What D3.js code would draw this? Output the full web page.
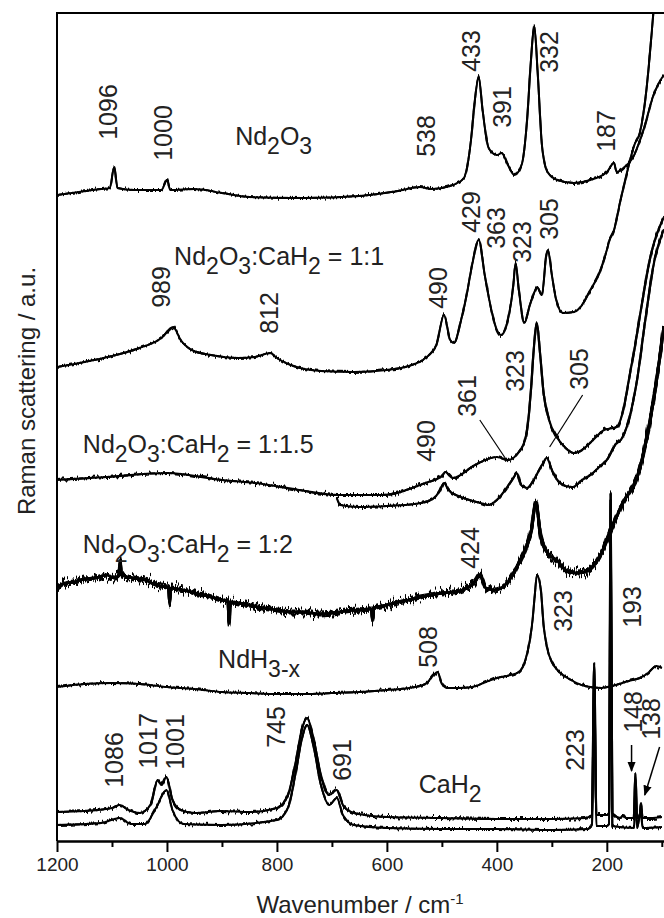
<!DOCTYPE html>
<html lang="en">
<head>
<meta charset="UTF-8">
<title>Raman spectra</title>
<script src="https://d3js.org/d3.v7.min.js"></script>
<style>
  body { margin: 0; background: #fff; }
  svg { display: block; font-family: "Liberation Sans", Arial, sans-serif; }
</style>
</head>
<body>
<svg id="chart" width="664" height="918"></svg>
<script>
// spectra, [wavenumber cm-1, intensity a.u.] (stacked offsets already in)
const nd2o3 = [[1200,646],[1160,649],[1120,652],[1104,653],[1096,674],[1090,653],[1060,651],[1010,651],[1000,661],[994,651],
  [950,652],[900,648],[850,644],[750,643],[650,645],[580,650],[540,654],[520,652],[480,656],[460,663],[447,701],[440,741],
  [433,764],[426,731],[415,693],[400,686],[391,688],[380,676],[368,666],[355,676],[345,721],[338,781],[332,815],[326,771],
  [318,696],[308,669],[290,661],[260,658],[230,661],[200,669],[187,678],[182,669],[170,673],[153,683],[135,708],[115,746],
  [100,763],[96,766]];

const ratio11 = [[1200,474],[1150,479],[1100,485],[1050,493],[1010,503],[989,514],[975,501],[955,491],[920,486],[870,483],
  [840,484],[812,488],[800,483],[770,475],[720,470],[660,469],[600,471],[560,475],[530,483],[510,496],[496,526],[485,501],
  [478,498],[465,521],[455,546],[445,576],[433,601],[422,566],[410,531],[400,511],[392,506],[380,521],[370,556],[366,578],
  [360,551],[350,518],[340,536],[330,551],[327,554],[318,546],[310,586],[307,591],[300,566],[292,541],[280,528],[260,529],
  [245,536],[230,551],[215,566],[200,591],[195,601],[188,609],[175,641],[160,676],[150,696],[140,708],[128,751],[118,811],
  [115,831]];

const ratio115a = [[1200,361],[1110,364],[1000,368],[900,361],[840,358],[760,351],[690,346],[610,346],[530,358],[500,365],
  [494,369],[480,363],[440,376],[400,384],[380,381],[360,389],[350,399],[345,411],[338,451],[333,491],[327,518],[322,491],
  [315,448],[305,421],[291,404],[275,393],[260,388],[245,391],[225,401],[205,411],[182,414],[170,431],[160,461],[150,491],
  [135,541],[120,586],[97,623]];

const ratio115b = [[691,343],[685,336],[650,334],[600,335],[550,337],[520,341],[505,349],[496,358],[488,351],[470,345],
  [450,341],[430,338],[416,336],[400,341],[385,351],[370,363],[364,368],[356,356],[345,353],[330,364],[318,376],[309,383],
  [300,371],[290,361],[275,355],[262,354],[245,361],[230,366],[210,376],[200,381],[185,396],[171,404],[160,421],[145,461],
  [130,521],[115,576],[97,611]];

const ratio12 = [[1200,254],[1185,258],[1170,259],[1150,262],[1130,263],[1110,266],[1095,263],[1087,266],[1085,280],[1083,266],
  [1060,263],[1040,261],[1020,256],[1000,254],[997,253],[995,238],[993,253],[970,251],[950,248],[925,245],[900,241],[889,240],
  [887,218],[885,239],[850,236],[825,233],[800,231],[775,229],[750,229],[725,227],[700,228],[675,230],[650,231],[628,232],
  [626,220],[624,233],[600,236],[580,239],[560,241],[540,244],[520,246],[500,248],[480,249],[462,251],[440,259],[431,266],
  [420,253],[405,251],[385,256],[360,278],[345,296],[337,311],[329,339],[320,304],[305,286],[291,281],[275,271],[255,268],
  [240,269],[213,284],[195,308],[171,338],[145,364],[130,396],[115,441],[97,511]];

const ndh3 = [[1200,154],[1150,157],[1100,158],[1050,157],[1000,154],[950,152],[900,149],[850,148],[800,147],[750,147],
  [700,148],[650,149],[600,151],[560,153],[530,157],[515,166],[508,169],[500,157],[490,153],[470,153],[445,154],[420,159],
  [400,163],[375,166],[360,169],[348,181],[340,201],[335,221],[331,246],[327,266],[320,251],[315,216],[309,194],[300,179],
  [290,171],[265,161],[240,155],[210,153],[190,155],[160,160],[140,163],[125,168],[110,175],[100,173]];

const cah2a = [[1200,29],[1150,30],[1100,33],[1086,36],[1070,31],[1050,28],[1030,36],[1017,61],[1010,56],[1001,64],[990,41],
  [975,31],[950,28],[900,30],[850,29],[800,33],[780,46],[765,81],[755,111],[745,123],[735,106],[720,66],[705,46],[691,51],
  [680,36],[665,29],[640,26],[600,24],[500,23],[400,22],[300,22],[240,23],[227,26],[223,178],[219,26],[200,26],[196,28],
  [193,348],[190,28],[175,23],[170,26],[165,23],[151,23],[148,68],[145,23],[140,26],[138,38],[135,23],[120,23],[100,24]];

const cah2b = [[1200,16],[1120,18],[1086,23],[1065,17],[1040,17],[1020,33],[1001,51],[990,31],[970,17],[900,16],[800,21],
  [780,33],[765,71],[755,101],[745,116],[735,99],[720,56],[705,36],[691,43],[680,26],[660,16],[600,13],[500,12],[400,12],
  [300,11],[235,12],[227,16],[223,171],[219,15],[200,15],[196,17],[193,341],[190,15],[150,13],[148,61],[145,13],[138,31],
  [135,13],[100,14]];

// grain: noise filters laid over each recorded trace
const spectra = [
  { name: "Nd2O3", values: nd2o3, width: 2, grain: ['noiseLow'] },
  { name: "1:1", values: ratio11, width: 2, grain: ['noiseLow'] },
  { name: "1:1.5 a", values: ratio115a, width: 2.2, grain: ['noiseMid'] },
  { name: "1:1.5 b", values: ratio115b, width: 2.2, grain: ['noiseMid'] },
  { name: "1:2", values: ratio12, width: 3, grain: ['noiseHigh', 'noiseHigh2', 'noiseMid'] },
  { name: "NdH3-x", values: ndh3, width: 2, grain: ['noiseLow'] },
  { name: "CaH2 a", values: cah2a, width: 2.2, grain: ['noiseMid'] },
  { name: "CaH2 b", values: cah2b, width: 2, grain: ['noiseLow'] }
];

// peak labels [text, wavenumber, intensity]
const peakLabels = [
  ["1096",1107,729],["1000",1007,708],["538",529,705],["433",447,790],["391",391,734],["332",305,789],["187",202,710],
  ["989",1011,554],["812",815,528],["490",507,553],["429",447,629],["363",402,613],["323",355,599],["305",305,622],
  ["490",529,400],["361",455,445],["323",367,470],["305",251,472],
  ["424",449,293],
  ["508",525,194],["323",280,230],["193",155,234],
  ["1086",1096,81],["1017",1035,100],["1001",985,99],["745",802,114],["691",682,81],["223",258,91],["148",153,129],["138",119,122]
];

// sample names: parts [text, 0 normal / 1 subscript], anchored at [wavenumber, intensity]
const sampleLabels = [
  { parts: [["Nd",0],["2",1],["O",0],["3",1]], at: [876,696] },
  { parts: [["Nd",0],["2",1],["O",0],["3",1],[":CaH",0],["2",1],[" = 1:1",0]], at: [987,576] },
  { parts: [["Nd",0],["2",1],["O",0],["3",1],[":CaH",0],["2",1],[" = 1:1.5",0]], at: [1153,388] },
  { parts: [["Nd",0],["2",1],["O",0],["3",1],[":CaH",0],["2",1],[" = 1:2",0]], at: [1153,288] },
  { parts: [["NdH",0],["3-x",1]], at: [907,173] },
  { parts: [["CaH",0],["2",1]], at: [542,48] }
];

// leader lines and arrows [w1, i1, w2, i2]
const leaders = [[431,421,380,379],[244,446,304,394]];
const arrows = [[155,96,155,70],[104,94,131,46]];

const majorTicks = [1200, 1000, 800, 600, 400, 200];
const minorTicks = [1100, 900, 700, 500, 300, 100];

const svg = d3.select('#chart');
const plotLeft = 57, plotRight = 664, plotTop = 13, plotBottom = 841;

const x = d3.scaleLinear().domain([1200, 96]).range([plotLeft, plotRight]);
const y = d3.scaleLinear().domain([0, 828]).range([plotBottom, plotTop]);

const defs = svg.append('defs');
defs.append('clipPath').attr('id', 'plot')
  .append('rect').attr('x', plotLeft).attr('y', plotTop)
  .attr('width', plotRight - plotLeft).attr('height', plotBottom - plotTop);

defs.append('marker')
  .attr('id', 'head').attr('viewBox', '0 0 10 10').attr('refX', 9).attr('refY', 5)
  .attr('markerWidth', 7).attr('markerHeight', 7).attr('orient', 'auto')
  .append('path').attr('d', 'M0,1L10,5L0,9Z').attr('fill', '#000');

// detector grain: vertical-only jitter of a copy of the trace
function addNoise(id, amount, seed) {
    const f = defs.append('filter').attr('id', id)
        .attr('x', '-2%').attr('y', '-5%').attr('width', '104%').attr('height', '110%')
        .attr('color-interpolation-filters', 'sRGB');
    f.append('feTurbulence').attr('type', 'fractalNoise')
        .attr('baseFrequency', '0.6 0.02').attr('numOctaves', 2).attr('seed', seed).attr('result', 'turb');
    f.append('feColorMatrix').attr('in', 'turb').attr('type', 'matrix')
        .attr('values', '0 0 0 0 0.5  0 1 0 0 0  0 0 0 0 0  0 0 0 0 1').attr('result', 'shift');
    f.append('feDisplacementMap').attr('in', 'SourceGraphic').attr('in2', 'shift')
        .attr('scale', amount).attr('xChannelSelector', 'R').attr('yChannelSelector', 'G');
}
addNoise('noiseLow', 6, 2);
addNoise('noiseMid', 8, 5);
addNoise('noiseHigh', 22, 9);
addNoise('noiseHigh2', 16, 13);

const line = d3.line()
  .x(d => x(d[0]))
  .y(d => y(d[1]))
  .curve(d3.curveMonotoneX);

const traces = svg.append('g').attr('clip-path', 'url(#plot)');

// solid trace
traces.selectAll('path.clean')
  .data(spectra)
  .enter()
  .append('path')
  .attr('class', 'clean')
  .attr('d', d => line(d.values))
  .attr('fill', 'none')
  .attr('stroke', '#000')
  .attr('stroke-width', d => d.width)
  .attr('stroke-linejoin', 'round');

// grainy copies on top
const grainy = spectra.flatMap(s => s.grain.map(f => ({ values: s.values, width: s.width, filter: f })));
traces.selectAll('path.grain')
  .data(grainy)
  .enter()
  .append('path')
  .attr('class', 'grain')
  .attr('d', d => line(d.values))
  .attr('fill', 'none')
  .attr('stroke', '#000')
  .attr('stroke-width', d => d.width)
  .attr('stroke-linejoin', 'round')
  .attr('filter', d => `url(#${d.filter})`);

// frame (right side falls outside the picture)
svg.append('path')
  .attr('d', `M${plotRight + 4},${plotTop}H${plotLeft}V${plotBottom}`)
  .attr('fill', 'none').attr('stroke', '#000').attr('stroke-width', 2);

const axis = svg.append('g').attr('transform', `translate(0,${plotBottom})`)
  .call(d3.axisBottom(x).tickValues(majorTicks).tickSize(11).tickSizeOuter(0).tickPadding(6).tickFormat(d3.format('d')));
svg.append('g').attr('transform', `translate(0,${plotBottom})`)
  .call(d3.axisBottom(x).tickValues(minorTicks).tickSize(6).tickSizeOuter(0).tickFormat(''));
svg.selectAll('.domain').attr('stroke-width', 2.2);
svg.selectAll('.tick line').attr('stroke-width', 2);
axis.selectAll('text').attr('font-size', 19).attr('font-family', '"Liberation Sans", Arial, sans-serif').attr('fill', '#222');

svg.append('text')
  .attr('x', 360).attr('y', 913)
  .attr('text-anchor', 'middle')
  .attr('font-size', 24).attr('fill', '#222')
  .call(t => {
    t.append('tspan').text('Wavenumber / cm');
    t.append('tspan').attr('dy', -9).attr('font-size', 15).text('-1');
  });

svg.append('text')
  .attr('transform', 'translate(35,391) rotate(-90)')
  .attr('text-anchor', 'middle')
  .attr('font-size', 24).attr('fill', '#222')
  .text('Raman scattering / a.u.');

svg.append('g')
  .selectAll('text')
  .data(peakLabels)
  .enter()
  .append('text')
  .attr('transform', d => `translate(${x(d[1])},${y(d[2])}) rotate(-90)`)
  .attr('text-anchor', 'middle')
  .attr('dominant-baseline', 'central')
  .attr('font-size', 25)
  .attr('fill', '#222')
  .text(d => d[0]);

sampleLabels.forEach(s => {
  const t = svg.append('text')
    .attr('x', x(s.at[0])).attr('y', y(s.at[1]))
    .attr('font-size', 25).attr('fill', '#222');
  let shift = 0;
  s.parts.forEach(p => {
    const want = p[1] ? 9 : 0;
    t.append('tspan')
      .attr('dy', want - shift)
      .attr('font-size', p[1] ? 23 : 25)
      .text(p[0]);
    shift = want;
  });
});

svg.append('g')
  .selectAll('line')
  .data(leaders)
  .enter()
  .append('line')
  .attr('x1', d => x(d[0])).attr('y1', d => y(d[1]))
  .attr('x2', d => x(d[2])).attr('y2', d => y(d[3]))
  .attr('stroke', '#000').attr('stroke-width', 1.2);

svg.append('g')
  .selectAll('line')
  .data(arrows)
  .enter()
  .append('line')
  .attr('x1', d => x(d[0])).attr('y1', d => y(d[1]))
  .attr('x2', d => x(d[2])).attr('y2', d => y(d[3]))
  .attr('stroke', '#000').attr('stroke-width', 1.5)
  .attr('marker-end', 'url(#head)');
</script>
</body>
</html>
